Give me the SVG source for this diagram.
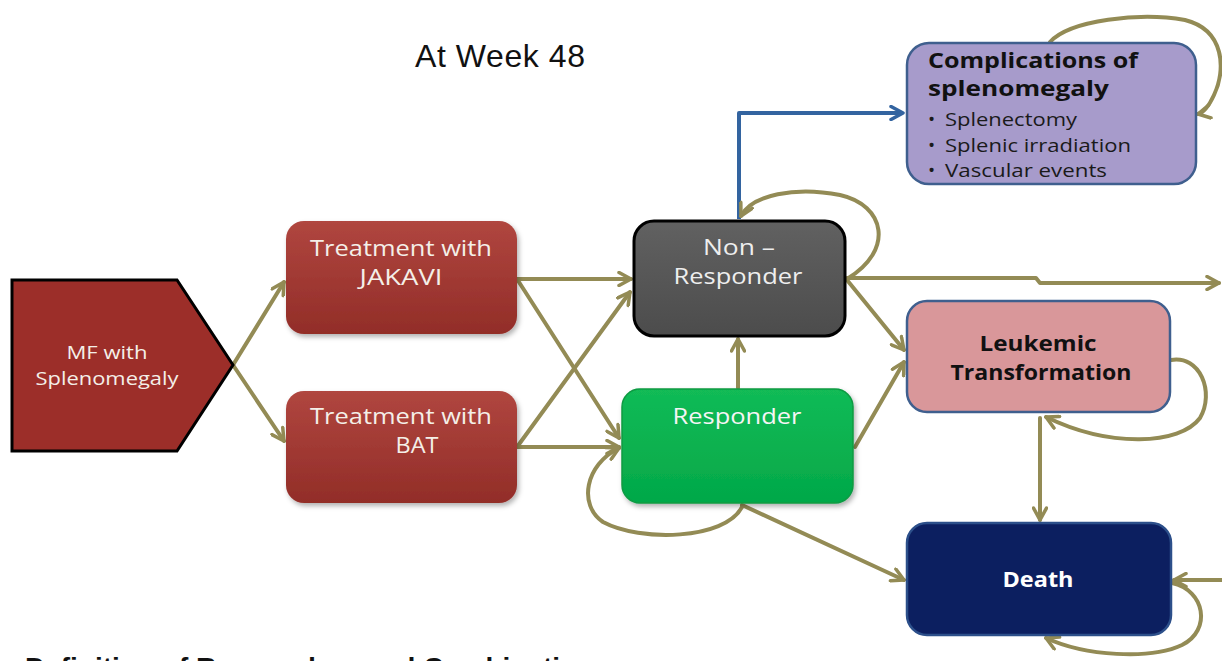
<svg xmlns="http://www.w3.org/2000/svg" width="1222" height="661" viewBox="0 0 1222 661">
<defs>
<style>
.t{font-family:"Open Sans","Noto Sans","Liberation Sans",sans-serif;text-anchor:middle}
.w{fill:#f4efe8;font-size:21px}
.b{font-weight:bold;fill:#111;font-size:22px}
.c{fill:none;stroke:#938b55;stroke-width:4;stroke-linecap:round;stroke-linejoin:round}
.ca{marker-end:url(#ah)}
</style>
<linearGradient id="red" x1="0" y1="0" x2="0" y2="1"><stop offset="0" stop-color="#b0463f"/><stop offset="1" stop-color="#922d28"/></linearGradient>
<linearGradient id="gray" x1="0" y1="0" x2="0" y2="1"><stop offset="0" stop-color="#616161"/><stop offset="1" stop-color="#4c4c4c"/></linearGradient>
<linearGradient id="green" x1="0" y1="0" x2="0" y2="1"><stop offset="0" stop-color="#12bb56"/><stop offset="1" stop-color="#03a849"/></linearGradient>
<filter id="sh" x="-10%" y="-10%" width="125%" height="130%"><feDropShadow dx="2" dy="3" stdDeviation="2.5" flood-color="#000" flood-opacity="0.3"/></filter>
<marker id="ah" viewBox="0 0 16 16" refX="14" refY="8" markerWidth="16" markerHeight="16" markerUnits="userSpaceOnUse" orient="auto"><path d="M2,1.5 L14,8 L2,14.5" fill="none" stroke="#938b55" stroke-width="3.5" stroke-linecap="round" stroke-linejoin="round"/></marker>
<marker id="ahb" viewBox="0 0 16 16" refX="14" refY="8" markerWidth="16" markerHeight="16" markerUnits="userSpaceOnUse" orient="auto"><path d="M2,1.5 L14,8 L2,14.5" fill="none" stroke="#3364a0" stroke-width="3.5" stroke-linecap="round" stroke-linejoin="round"/></marker>
</defs>
<rect width="1222" height="661" fill="#ffffff"/>
<text x="415" y="67" font-family="Liberation Sans, Arial, sans-serif" font-size="32" fill="#111" textLength="170">At Week 48</text>

<g id="connectors">
<path class="c ca" d="M233,365 L284,282"/>
<path class="c ca" d="M233,365 L284,441"/>
<path class="c ca" d="M517,279 L631,279"/>
<path class="c ca" d="M517,279 L619,438"/>
<path class="c ca" d="M517,447 L619,447"/>
<path class="c ca" d="M517,447 L630,292"/>
<path class="c ca" d="M738,388 L738,339"/>
<path d="M739,219 L739,113 L903,113" fill="none" stroke="#3364a0" stroke-width="4" stroke-linejoin="round" marker-end="url(#ahb)"/>
<path class="c ca" d="M847,279 C895,250 885,205 840,195 C795,186 752,195 741,216"/>
<path class="c ca" d="M847,278 L1036,278 L1040,283 L1219,283"/>
<path class="c ca" d="M847,280 L904,350"/>
<path class="c ca" d="M855,447 L904,362"/>
<path class="c ca" d="M742,505 L904,580"/>
<path class="c ca" d="M742,507 C725,540 640,542 603,522 C578,505 585,465 619,448"/>
<path class="c ca" d="M1040,418 L1040,520"/>
<path class="c ca" d="M1171,360 C1200,355 1215,392 1200,418 C1180,445 1110,448 1046,417"/>
<path class="c ca" d="M1222,580 L1174,580"/>
<path class="c ca" d="M1172,583 C1205,590 1212,630 1182,645 C1150,660 1085,656 1046,638"/>
<path class="c ca" d="M1050,42 C1070,20 1140,12 1185,20 C1225,30 1226,70 1214,95 C1208,108 1203,113 1198,114"/>
</g>

<g id="mf">
<polygon points="12,280 177,280 233,365 177,451 12,451" fill="#9c2e29" stroke="#000" stroke-width="3"/>
<text class="t" x="107" y="359" font-size="18" fill="#f4efe8" textLength="81" lengthAdjust="spacingAndGlyphs">MF with</text>
<text class="t" x="107" y="385" font-size="18" fill="#f4efe8" textLength="143" lengthAdjust="spacingAndGlyphs">Splenomegaly</text>
</g>

<g id="jakavi">
<rect x="286" y="221" width="231" height="113" rx="18" fill="url(#red)" filter="url(#sh)"/>
<text class="t w" x="401" y="256" textLength="182" lengthAdjust="spacingAndGlyphs">Treatment with</text>
<text class="t w" x="401" y="285" textLength="83" lengthAdjust="spacingAndGlyphs">JAKAVI</text>
</g>

<g id="bat">
<rect x="286" y="391" width="231" height="112" rx="18" fill="url(#red)" filter="url(#sh)"/>
<text class="t w" x="401" y="424" textLength="182" lengthAdjust="spacingAndGlyphs">Treatment with</text>
<text class="t w" x="417" y="453" textLength="43" lengthAdjust="spacingAndGlyphs">BAT</text>
</g>

<g id="nonresponder">
<rect x="634" y="221" width="211" height="115" rx="20" fill="url(#gray)" stroke="#000" stroke-width="3"/>
<text class="t w" x="739" y="255" style="fill:#eee" textLength="72" lengthAdjust="spacingAndGlyphs">Non –</text>
<text class="t w" x="738" y="284" style="fill:#eee" textLength="129" lengthAdjust="spacingAndGlyphs">Responder</text>
</g>

<g id="responder">
<rect x="622" y="389" width="231" height="114" rx="18" fill="url(#green)" stroke="#0a9a42" stroke-width="1.5" filter="url(#sh)"/>
<text class="t w" x="737" y="424" style="fill:#f5f5f5" textLength="129" lengthAdjust="spacingAndGlyphs">Responder</text>
</g>

<g id="complications">
<rect x="907" y="43" width="289" height="141" rx="22" fill="#a79bcb" stroke="#3f5f8e" stroke-width="2.5"/>
<text x="928" y="68" font-family="Open Sans, Noto Sans, sans-serif" font-size="22" font-weight="bold" fill="#111" textLength="210" lengthAdjust="spacingAndGlyphs">Complications of</text>
<text x="928" y="96" font-family="Open Sans, Noto Sans, sans-serif" font-size="22" font-weight="bold" fill="#111" textLength="181" lengthAdjust="spacingAndGlyphs">splenomegaly</text>
<g font-family="Open Sans, Noto Sans, sans-serif" font-size="19" fill="#1a1a1a">
<text x="928" y="126">•</text><text x="945" y="126" textLength="132" lengthAdjust="spacingAndGlyphs">Splenectomy</text>
<text x="928" y="152">•</text><text x="945" y="152" textLength="186" lengthAdjust="spacingAndGlyphs">Splenic irradiation</text>
<text x="928" y="177">•</text><text x="945" y="177" textLength="162" lengthAdjust="spacingAndGlyphs">Vascular events</text>
</g>
</g>

<g id="leukemic">
<rect x="907" y="301" width="263" height="111" rx="20" fill="#d9979a" stroke="#3f5f8e" stroke-width="2.5"/>
<text class="t b" x="1038" y="351" textLength="117" lengthAdjust="spacingAndGlyphs">Leukemic</text>
<text class="t b" x="1041" y="380" textLength="181" lengthAdjust="spacingAndGlyphs">Transformation</text>
</g>

<g id="death">
<rect x="907" y="523" width="264" height="112" rx="20" fill="#0c1f60" stroke="#2c4f8a" stroke-width="2.5"/>
<text class="t b" x="1038" y="587" style="fill:#ffffff" textLength="71" lengthAdjust="spacingAndGlyphs">Death</text>
</g>

<text x="25" y="677" font-family="Liberation Sans, Arial, sans-serif" font-size="28" font-weight="bold" fill="#111">Definition of Responders and Combination</text>
</svg>
